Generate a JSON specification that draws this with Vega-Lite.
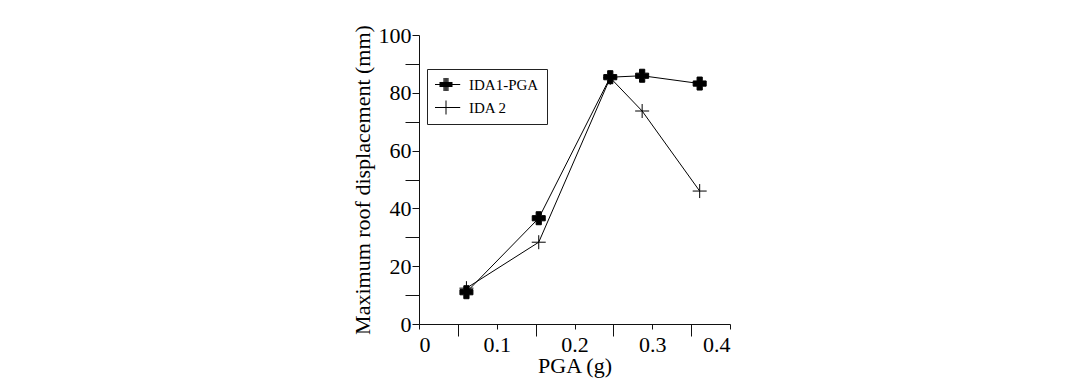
{
  "$schema": "https://vega.github.io/schema/vega-lite/v6.json",
  "width": 311,
  "height": 289,
  "autosize": {"type": "none"},
  "padding": {"left": 419, "top": 35, "right": 350, "bottom": 55},
  "background": "white",
  "config": {
    "view": {"stroke": null},
    "font": "Liberation Serif",
    "axis": {
      "grid": false,
      "domainColor": "#111",
      "tickColor": "#111",
      "domainWidth": 1,
      "tickWidth": 1,
      "labelColor": "black",
      "titleColor": "black",
      "labelFont": "Liberation Serif",
      "titleFont": "Liberation Serif",
      "labelFontSize": 22,
      "titleFontSize": 22,
      "titleFontWeight": "normal",
      "labelOverlap": false
    }
  },
  "data": {
    "values": [
      {"series": "IDA1-PGA", "pga": 0.061, "disp": 11.0},
      {"series": "IDA1-PGA", "pga": 0.154, "disp": 36.6},
      {"series": "IDA1-PGA", "pga": 0.246, "disp": 85.4},
      {"series": "IDA1-PGA", "pga": 0.287, "disp": 85.9},
      {"series": "IDA1-PGA", "pga": 0.361, "disp": 83.2},
      {"series": "IDA 2", "pga": 0.061, "disp": 12.4},
      {"series": "IDA 2", "pga": 0.154, "disp": 28.3},
      {"series": "IDA 2", "pga": 0.246, "disp": 85.2},
      {"series": "IDA 2", "pga": 0.287, "disp": 73.7},
      {"series": "IDA 2", "pga": 0.361, "disp": 46.0}
    ]
  },
  "encoding": {
    "x": {
      "field": "pga",
      "type": "quantitative",
      "scale": {"domain": [0, 0.4], "nice": false},
      "axis": {
        "title": "PGA (g)",
        "values": [0, 0.05, 0.1, 0.15, 0.2, 0.25, 0.3, 0.35, 0.4],
        "labelExpr": "round(datum.value * 20) % 2 == 1 ? '' : format(datum.value, '.1~f')",
        "tickSize": {"condition": {"test": "round(datum.value * 20) % 2 == 1", "value": 12}, "value": 5},
        "labelFontSize": 22,
        "titleFontSize": 22,
        "labelPadding": 5,
        "titlePadding": -7
      }
    },
    "y": {
      "field": "disp",
      "type": "quantitative",
      "scale": {"domain": [0, 100], "nice": false},
      "axis": {
        "title": "Maximum roof displacement (mm)",
        "values": [0, 10, 20, 30, 40, 50, 60, 70, 80, 90, 100],
        "labelExpr": "round(datum.value) % 20 == 0 ? datum.label : ''",
        "tickSize": {"condition": {"test": "round(datum.value) % 20 != 0", "value": 14}, "value": 7},
        "labelFontSize": 22,
        "titleFontSize": 22,
        "labelPadding": 1,
        "titlePadding": 4
      }
    }
  },
  "layer": [
    {
      "mark": {"type": "line", "color": "black", "strokeWidth": 1},
      "encoding": {"detail": {"field": "series"}}
    },
    {
      "mark": {"type": "point", "filled": true, "color": "black", "stroke": "black", "strokeWidth": 1, "strokeJoin": "miter", "opacity": 1},
      "encoding": {
        "shape": {
          "field": "series",
          "type": "nominal",
          "scale": {"domain": ["IDA1-PGA", "IDA 2"], "range": ["cross", "M-1,0H1M0,-1V1"]},
          "legend": null
        },
        "size": {
          "condition": {"test": "datum.series === 'IDA1-PGA'", "value": 169},
          "value": 196
        }
      }
    },
    {
      "mark": {"type": "point", "filled": false, "color": "black", "strokeWidth": 1, "opacity": 0},
      "encoding": {
        "shape": {
          "field": "series",
          "type": "nominal",
          "scale": {
            "domain": ["IDA1-PGA", "IDA 2"],
            "range": [
              "M-1.47,0H2.53M-0.43,-0.29H1.43M-0.43,-0.14H1.43M-0.43,0.14H1.43M-0.43,0.29H1.43M0.21,-0.93V0.93M0.36,-0.93V0.93M0.5,-0.93V0.93M0.64,-0.93V0.93M0.79,-0.93V0.93",
              "M-1.47,0H2.53M0.5,-1V1"
            ]
          },
          "legend": {
            "title": null,
            "orient": "none",
            "legendX": 8,
            "legendY": 34,
            "padding": 8,
            "strokeColor": "#222",
            "fillColor": "white",
            "symbolSize": 196,
            "symbolOpacity": 1,
            "symbolStrokeWidth": 1,
            "symbolStrokeColor": "black",
            "labelOffset": 19,
            "labelFont": "Liberation Serif",
            "labelFontSize": 15,
            "labelColor": "black",
            "clipHeight": 15,
            "rowPadding": 7
          }
        },
        "size": {"value": 196}
      }
    }
  ],
  "resolve": {"scale": {"shape": "independent"}, "legend": {"shape": "independent"}}
}
